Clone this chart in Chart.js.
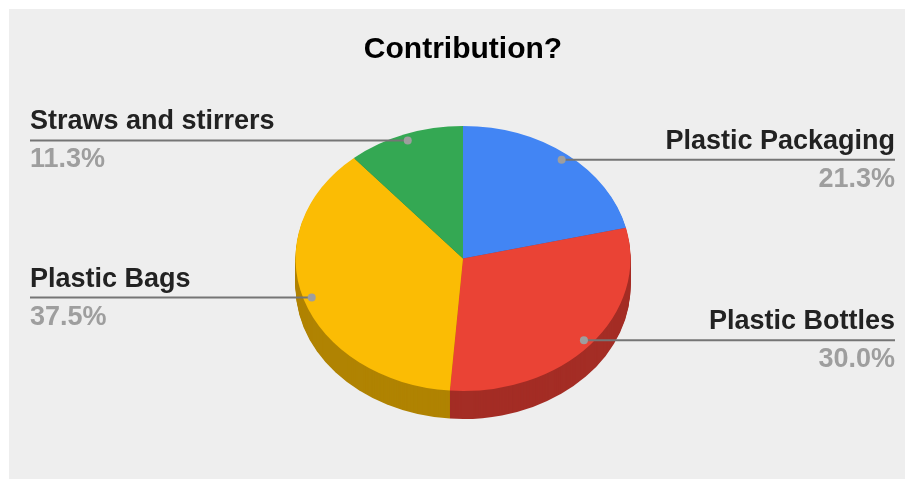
<!DOCTYPE html>
<html>
<head>
<meta charset="utf-8">
<script src="https://cdn.jsdelivr.net/npm/chart.js@4/dist/chart.umd.min.js"></script>
<style>
  html, body { margin: 0; padding: 0; background: #fff; }
  canvas { display: block; }
</style>
</head>
<body>
<canvas id="pie" width="906" height="479"></canvas>
<script>
// ===== PLASTIC CONTRIBUTION PIE =====
const categories = ['Plastic Packaging', 'Plastic Bottles', 'Plastic Bags', 'Straws and stirrers'];
const shares = [21.3, 30.0, 37.5, 11.3];
const topColors = ['#4285f4', '#ea4335', '#fbbc04', '#34a853'];
const sideColors = ['#2b5cad', '#a42d25', '#b08302', '#237a3b'];

const TILT = 132.5 / 167.5;   // vertical squash of the pie face
const DEPTH = 28;             // thickness of the disc in px
const FONT = '"Liberation Sans", Arial, sans-serif';

function arcGeom(arc) {
  return arc.getProps(['x', 'y', 'startAngle', 'endAngle', 'outerRadius'], true);
}

// grey panel behind everything
const panelBg = {
  id: 'panelBg',
  beforeDraw(chart) {
    const ctx = chart.ctx;
    ctx.save();
    ctx.fillStyle = '#ffffff';
    ctx.fillRect(0, 0, chart.width, chart.height);
    ctx.fillStyle = '#eeeeee';
    ctx.fillRect(9, 9, chart.width - 10, chart.height - 9);
    ctx.restore();
  }
};

// side wall + flattened face
const tiltPie = {
  id: 'tiltPie',
  beforeDatasetsDraw(chart) {
    const ctx = chart.ctx;
    const arcs = chart.getDatasetMeta(0).data;
    ctx.save();
    for (let d = DEPTH; d >= 1; d--) {
      arcs.forEach((arc, i) => {
        const g = arcGeom(arc);
        ctx.fillStyle = sideColors[i];
        ctx.beginPath();
        ctx.moveTo(g.x, g.y + d);
        ctx.ellipse(g.x, g.y + d, g.outerRadius, g.outerRadius * TILT, 0, g.startAngle, g.endAngle);
        ctx.closePath();
        ctx.fill();
      });
    }
    ctx.restore();

    const g0 = arcGeom(arcs[0]);
    ctx.save();
    ctx.translate(g0.x, g0.y);
    ctx.scale(1, TILT);
    ctx.translate(-g0.x, -g0.y);
  },
  afterDatasetsDraw(chart) {
    chart.ctx.restore();
  }
};

// leader lines with name + share
const leaderLabels = {
  id: 'leaderLabels',
  afterDraw(chart) {
    const ctx = chart.ctx;
    const arcs = chart.getDatasetMeta(0).data;
    const total = shares.reduce((s, v) => s + v, 0);
    ctx.save();
    arcs.forEach((arc, i) => {
      const g = arcGeom(arc);
      const mid = (g.startAngle + g.endAngle) / 2;
      const r = g.outerRadius * 0.95;
      const dx = g.x + Math.cos(mid) * r;
      const dy = g.y + Math.sin(mid) * r * TILT;
      const right = Math.cos(mid) > 0;
      const ex = right ? 895 : 30;

      ctx.strokeStyle = '#757575';
      ctx.lineWidth = 2;
      ctx.beginPath();
      ctx.moveTo(dx, dy);
      ctx.lineTo(ex, dy);
      ctx.stroke();

      ctx.fillStyle = '#9e9e9e';
      ctx.beginPath();
      ctx.arc(dx, dy, 4, 0, Math.PI * 2);
      ctx.fill();

      ctx.textAlign = right ? 'right' : 'left';
      ctx.textBaseline = 'alphabetic';
      ctx.font = 'bold 27px ' + FONT;
      ctx.fillStyle = '#222222';
      ctx.fillText(categories[i], ex, dy - 11);
      ctx.fillStyle = '#9e9e9e';
      ctx.fillText((shares[i] / total * 100).toFixed(1) + '%', ex, dy + 27);
    });
    ctx.restore();
  }
};

new Chart(document.getElementById('pie'), {
  type: 'pie',
  data: {
    labels: categories,
    datasets: [{
      data: shares,
      backgroundColor: topColors,
      borderWidth: 0,
      hoverOffset: 0,
      offset: 0
    }]
  },
  options: {
    responsive: false,
    animation: false,
    events: [],
    layout: { padding: { top: 0, bottom: 53, left: 295.5, right: 275.5 } },
    plugins: {
      legend: { display: false },
      tooltip: { enabled: false },
      title: {
        display: true,
        text: 'Contribution?',
        color: '#000000',
        font: { family: FONT, size: 30, weight: 'bold', lineHeight: 1.2 },
        padding: { top: 32, bottom: 23 }
      }
    }
  },
  plugins: [panelBg, tiltPie, leaderLabels]
});
</script>
</body>
</html>
